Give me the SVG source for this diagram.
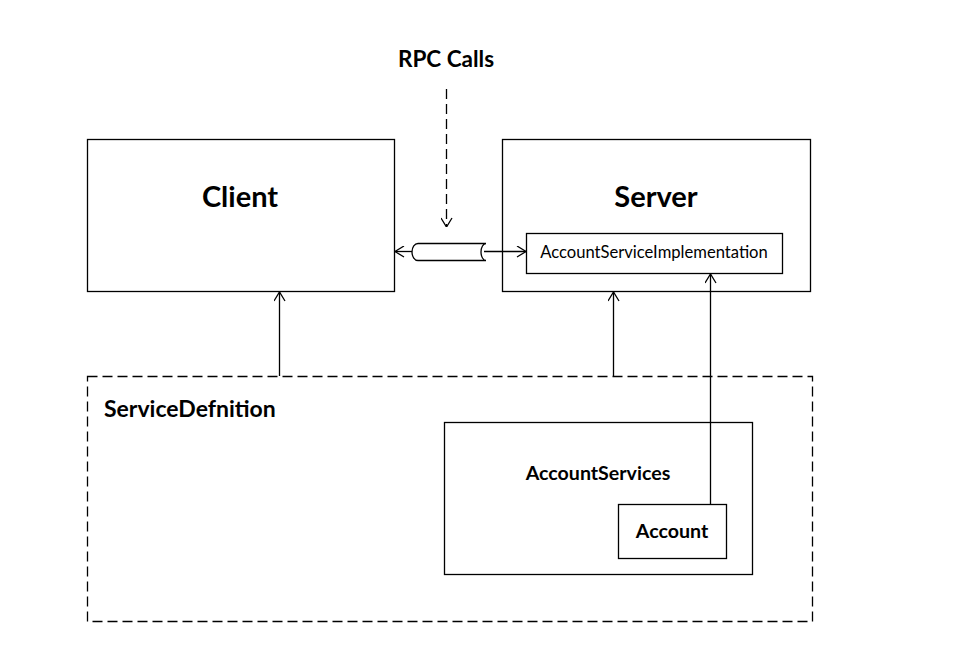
<svg xmlns="http://www.w3.org/2000/svg" width="966" height="671" viewBox="0 0 966 671">
<defs>
<style>
.box{fill:#fff;stroke:#000;stroke-width:1.3}
.dash{fill:none;stroke:#000;stroke-width:1.3;stroke-dasharray:10 5}
.ln{fill:none;stroke:#000;stroke-width:1.3}
.t{font-family:Lato,"Liberation Sans",sans-serif;fill:#000;text-anchor:middle;dominant-baseline:central}
.b{font-weight:bold}
</style>
<marker id="oa" viewBox="0 0 10 12" refX="10" refY="6" markerWidth="10" markerHeight="12" markerUnits="userSpaceOnUse" orient="auto">
<path d="M1,0.5 L10,6 L1,11.5" fill="none" stroke="#000" stroke-width="1.3"/>
</marker>
</defs>
<rect width="966" height="671" fill="#fff"/>
<text class="t b" x="446" y="58" font-size="22.5">RPC Calls</text>
<g id="client">
<rect class="box" x="87.5" y="139.5" width="307" height="152"/>
<text class="t b" x="240" y="195" font-size="29">Client</text>
</g>
<g id="server">
<rect class="box" x="502.5" y="139.5" width="308" height="152"/>
<text class="t b" x="656" y="195" font-size="29">Server</text>
</g>
<g id="asi">
<rect class="box" x="526.5" y="233.5" width="256" height="40"/>
<text class="t" x="654" y="252" font-size="16.6">AccountServiceImplementation</text>
</g>
<g id="servicedefinition">
<rect class="dash" x="87.5" y="376.5" width="725" height="245"/>
<text class="t b" x="104" y="408" font-size="23" style="text-anchor:start">ServiceDefnition</text>
</g>
<g id="accountservices">
<rect class="box" x="444.5" y="422.5" width="308" height="152"/>
<text class="t b" x="598" y="472" font-size="19.6">AccountServices</text>
</g>
<g id="account">
<rect class="box" x="618.5" y="504.5" width="108" height="54"/>
<text class="t b" x="672" y="530" font-size="19.6">Account</text>
</g>
<g id="connectors">
<line class="ln" x1="446.5" y1="89" x2="446.5" y2="227" stroke-dasharray="10 5" marker-end="url(#oa)"/>
<path class="ln" d="M486,243.5 L418,243.5 A6,8.5 0 0 0 418,260.5 L486,260.5 A5,8.5 0 0 1 486,243.5" fill="#fff"/>
<line class="ln" x1="412" y1="251.5" x2="395" y2="251.5" marker-end="url(#oa)"/>
<line class="ln" x1="484" y1="251.5" x2="526" y2="251.5" marker-end="url(#oa)"/>
<line class="ln" x1="279.5" y1="376" x2="279.5" y2="292" marker-end="url(#oa)"/>
<line class="ln" x1="613.5" y1="376" x2="613.5" y2="292" marker-end="url(#oa)"/>
<line class="ln" x1="710.5" y1="504" x2="710.5" y2="274" marker-end="url(#oa)"/>
</g>
</svg>
